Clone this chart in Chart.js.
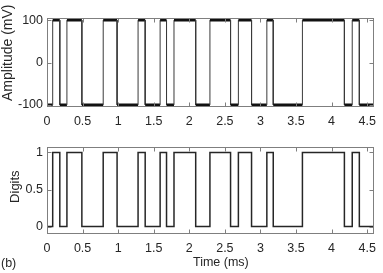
<!DOCTYPE html>
<html>
<head>
<meta charset="utf-8">
<script src="https://cdn.jsdelivr.net/npm/chart.js@4.4.0/dist/chart.umd.min.js"></script>
<style>
  html, body { margin: 0; padding: 0; background: #fff; }
  #wrap { position: relative; width: 383px; height: 273px; overflow: hidden;
          font-family: "Liberation Sans", Arial, sans-serif; color: #262626; }
  canvas { position: absolute; left: 0; }
  .lbl { position: absolute; font-size: 12.5px; line-height: 14px; white-space: nowrap; }
</style>
</head>
<body>
<div id="wrap">
  <canvas id="ampChart" width="383" height="135" style="top:0"></canvas>
  <canvas id="digitChart" width="383" height="138" style="top:135px"></canvas>
  <div class="lbl" style="left:193px;top:255px">Time (ms)</div>
  <div class="lbl" style="left:1px;top:256px">(b)</div>
</div>
<script>
// switching instants (ms), first is start of record, last is end
var edgeTimes = [0, 0.08, 0.18, 0.28, 0.49, 0.79, 0.985, 1.28, 1.38, 1.59, 1.68, 1.785,
                 2.09, 2.29, 2.58, 2.69, 2.875, 3.09, 3.18, 3.59, 4.18, 4.29, 4.39, 4.59];
// level held between two edges
var amplitudeMv = [-100, 100, -100, 100, -100, 100, -100, 100, -100, 100, -100, 100,
                   -100, 100, -100, 100, -100, 100, -100, 100, -100, 100, -100];
var digitBits = [0, 1, 0, 1, 0, 1, 0, 1, 0, 1, 0, 1,
                 0, 1, 0, 1, 0, 1, 0, 1, 0, 1, 0];

var timeTicks = [0, 0.5, 1, 1.5, 2, 2.5, 3, 3.5, 4, 4.5];
var ampTicks = [-100, 0, 100];
var digitTicks = [0, 0.5, 1];

Chart.defaults.font.family = '"Liberation Sans", Arial, sans-serif';
Chart.defaults.color = '#262626';

// turn level/edge lists into corner points of a square wave
function stepPoints(times, levels) {
  var pts = [];
  for (var i = 0; i < levels.length; i++) {
    pts.push({x: times[i], y: levels[i]});
    pts.push({x: times[i + 1], y: levels[i]});
  }
  return pts;
}

// matlab style box with inward ticks on all four sides
var boxFrame = {
  id: 'boxFrame',
  afterDraw: function(chart) {
    var ctx = chart.ctx, a = chart.chartArea;
    var xs = chart.scales.x, ys = chart.scales.y;
    var l = Math.round(a.left) + 0.5, r = Math.round(a.right) - 0.5;
    var t = Math.round(a.top) + 0.5, b = Math.round(a.bottom) - 0.5;
    ctx.save();
    ctx.strokeStyle = '#7f7f7f';
    ctx.lineWidth = 1;
    ctx.strokeRect(l, t, r - l, b - t);
    ctx.beginPath();
    xs.ticks.forEach(function(tk) {
      var p = Math.round(xs.getPixelForValue(tk.value)) + 0.5;
      ctx.moveTo(p, b); ctx.lineTo(p, b - 4);
      ctx.moveTo(p, t); ctx.lineTo(p, t + 4);
    });
    ys.ticks.forEach(function(tk) {
      var p = Math.round(ys.getPixelForValue(tk.value)) + 0.5;
      ctx.moveTo(l, p); ctx.lineTo(l + 4, p);
      ctx.moveTo(r, p); ctx.lineTo(r - 4, p);
    });
    ctx.stroke();
    ctx.restore();
  }
};

function makeChart(id, points, yMin, yMax, yTicks, yTitle, opts) {
  var el = document.getElementById(id).getContext('2d');
  return new Chart(el, {
    type: 'line',
    data: {
      datasets: [{
        data: points,
        borderColor: opts.color,
        borderWidth: opts.width,
        pointRadius: 0,
        tension: 0,
        segment: opts.segment
      }]
    },
    options: {
      responsive: false,
      animation: false,
      events: [],
      layout: { padding: { top: opts.top, right: 7.5, left: 0, bottom: 0 } },
      plugins: { legend: { display: false }, tooltip: { enabled: false } },
      scales: {
        x: {
          type: 'linear', min: 0, max: 4.59,
          grid: { display: false, drawTicks: false }, border: { display: false },
          afterBuildTicks: function(s) { s.ticks = timeTicks.map(function(v) { return {value: v}; }); },
          afterFit: function(s) { s.height = opts.xHeight; },
          ticks: { padding: 7, font: { size: 12.5 }, maxRotation: 0,
                   callback: function(v) { return String(v); } }
        },
        y: {
          min: yMin, max: yMax,
          grid: { display: false, drawTicks: false }, border: { display: false },
          afterBuildTicks: function(s) { s.ticks = yTicks.map(function(v) { return {value: v}; }); },
          afterFit: function(s) { s.width = 47; },
          ticks: { padding: 4, font: { size: 12.5 },
                   callback: function(v) { return String(v); } },
          title: { display: true, text: yTitle, font: { size: opts.titleSize },
                   padding: { top: opts.titlePad, bottom: 0 } }
        }
      }
    },
    plugins: [boxFrame]
  });
}

// plateaus are noisy and drawn heavy, transitions thin
// (leading spaces nudge the rotated label up the axis like in the figure)
makeChart('ampChart', stepPoints(edgeTimes, amplitudeMv), -105, 105, ampTicks, '     Amplitude (mV)', {
  top: 18, xHeight: 28, color: '#111', width: 1, titleSize: 14, titlePad: 0,
  segment: {
    borderWidth: function(c) { return c.p0.parsed.y === c.p1.parsed.y ? 2.6 : 1; },
    borderColor: function(c) { return c.p0.parsed.y === c.p1.parsed.y ? '#111' : '#3a3a3a'; }
  }
});

makeChart('digitChart', stepPoints(edgeTimes, digitBits), -0.1, 1.08, digitTicks, '  Digits', {
  top: 9, xHeight: 39, color: '#262626', width: 1.5, titleSize: 13, titlePad: 7.5
});
</script>
</body>
</html>
